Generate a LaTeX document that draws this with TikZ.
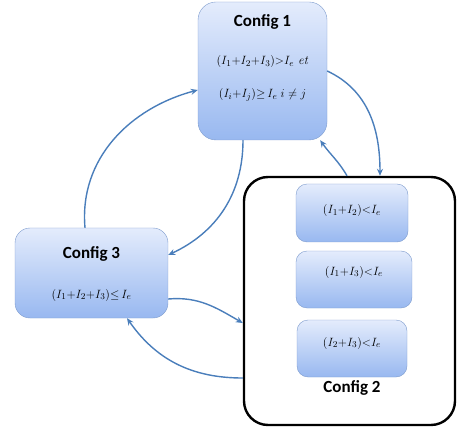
\documentclass[tikz,border=0pt]{standalone}
\usepackage{fontspec}
\usepackage{amsmath,amssymb}
\usetikzlibrary{arrows.meta}
\newfontfamily\cfgfont{Carlito}
\definecolor{boxtop}{RGB}{228,236,252}
\definecolor{boxbot}{RGB}{152,184,240}
\definecolor{boxline}{RGB}{125,155,205}
\definecolor{arrowblue}{RGB}{74,126,187}
\tikzstyle{cfgbox} = [draw=boxline, top color=boxtop, bottom color=boxbot, rectangle, rounded corners=18pt, inner sep=0pt]
\tikzstyle{condbox} = [draw=boxline, top color=boxtop, bottom color=boxbot, rectangle, rounded corners=11pt, inner sep=0pt]
\tikzstyle{outerbox} = [draw=black, line width=2.4pt, rectangle, rounded corners=24pt, inner sep=0pt]
\tikzstyle{cfgtitle} = [font=\cfgfont\bfseries\fontsize{17}{19}\selectfont]
\tikzstyle{cond} = [font=\fontsize{12.5}{14}\selectfont]
\tikzstyle{link} = [-{Stealth[length=7pt,width=6pt]}, arrowblue, line width=1.4pt]

\begin{document}
\begin{tikzpicture}[x=1pt,y=-1pt]
\useasboundingbox (0,0) rectangle (460,430);
\node [cfgbox, minimum width=129pt, minimum height=138pt] (c1) at (262.5,71) {};
\node [cfgtitle] (t1) at (262.5,22) {Config 1};
\node [cond] (f1a) at (262.5,62) {$(I_1{+}I_2{+}I_3){>}I_e$ \textit{et}};
\node [cond] (f1b) at (262.5,95) {$(I_i{+}I_j){\geq}\,I_e\; i \neq j$};
\node [outerbox, minimum width=211pt, minimum height=248pt] (c2) at (349.5,301) {};
\node [condbox, minimum width=112pt, minimum height=58pt] (c2a) at (352,213) {};
\node [cond] (f2a) at (352,211) {$(I_1{+}I_2){<}I_e$};
\node [condbox, minimum width=116pt, minimum height=57pt] (c2b) at (354,279.5) {};
\node [cond] (f2b) at (354,272) {$(I_1{+}I_3){<}I_e$};
\node [condbox, minimum width=110pt, minimum height=57pt] (c2c) at (352,348.5) {};
\node [cond] (f2c) at (352,343) {$(I_2{+}I_3){<}I_e$};
\node [cfgtitle] (t2) at (352,388) {Config 2};
\node [cfgbox, rounded corners=15pt, minimum width=153pt, minimum height=90pt] (c3) at (91.5,273) {};
\node [cfgtitle] (t3) at (91.5,254) {Config 3};
\node [cond] (f3) at (91.5,295) {$(I_1{+}I_2{+}I_3){\leq}\,I_e$};
\draw [link] (c1.east) to[out=-25,in=90] ([xshift=30.5pt]c2.north);
\draw [link] ([xshift=-2.5pt]c2.north) to[out=120,in=-55] ([xshift=-7pt]c1.south east);
\draw [link] ([xshift=-19.5pt]c1.south) to[out=-90,in=25] ([yshift=18pt]c3.east);
\draw [link] ([xshift=-6.5pt]c3.north) to[out=95,in=195] ([yshift=-19pt]c1.west);
\draw [link] ([yshift=-26pt]c3.east) to[out=5,in=150] ([yshift=-22pt]c2.west);
\draw [link] ([yshift=-77pt]c2.west) to[out=180,in=-55] ([xshift=35.5pt]c3.south);
\end{tikzpicture}
\end{document}
